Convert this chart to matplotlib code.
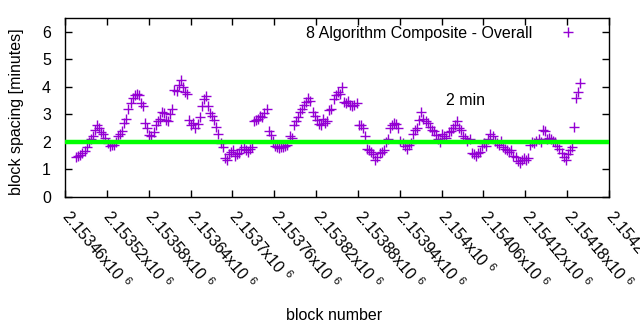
import matplotlib
matplotlib.use('Agg')
import matplotlib.pyplot as plt
import numpy as np

plt.rcParams['font.family'] = ['Liberation Sans', 'DejaVu Sans']
plt.rcParams['mathtext.fontset'] = 'custom'
plt.rcParams['mathtext.rm'] = 'Liberation Sans'
plt.rcParams['mathtext.default'] = 'regular'

# block numbers, one every 3 blocks
blocks = np.arange(2153476, 2154202, 3)

# block spacing in minutes
spacing = [
    1.45, 1.50, 1.52, 1.60, 1.68, 1.83, 2.00, 2.10, 2.20, 2.45,
    2.60, 2.50, 2.35, 2.30, 2.15, 1.95, 1.85, 1.88, 1.90, 2.00,
    2.20, 2.30, 2.40, 2.70, 2.85, 3.20, 3.40, 3.60, 3.70, 3.75,
    3.72, 3.40, 3.30, 2.70, 2.50, 2.25, 2.20, 2.35, 2.60, 2.75,
    2.85, 3.10, 3.05, 2.80, 2.75, 3.00, 3.20, 3.90, 3.85, 4.05,
    4.25, 4.00, 3.80, 3.75, 2.80, 2.60, 2.70, 2.50, 2.65, 2.90,
    3.30, 3.55, 3.65, 3.30, 3.05, 2.95, 2.80, 2.55, 2.30, 1.95,
    1.83, 1.40, 1.35, 1.55, 1.65, 1.70, 1.50, 1.55, 1.60, 1.75,
    1.80, 1.72, 1.65, 1.75, 1.80, 2.75, 2.80, 2.85, 2.95, 2.90,
    3.05, 3.20, 2.40, 2.25, 2.05, 1.85, 1.80, 1.78, 1.82, 1.80,
    1.85, 1.90, 2.20, 2.15, 2.60, 2.75, 2.90, 3.10, 3.20, 3.35,
    3.45, 3.60, 3.50, 3.10, 2.95, 2.80, 2.65, 2.60, 2.85, 2.70,
    2.75, 3.15, 3.20, 3.55, 3.70, 3.80, 3.75, 4.00, 3.45, 3.40,
    3.50, 3.35, 3.30, 3.35, 3.40, 2.60, 2.60, 2.50, 2.20, 1.75,
    1.70, 1.65, 1.55, 1.35, 1.45, 1.60, 1.65, 1.70, 2.00, 2.10,
    2.50, 2.60, 2.70, 2.65, 2.50, 2.05, 1.95, 1.85, 1.75, 1.90,
    1.95, 2.30, 2.45, 2.50, 2.80, 3.10, 2.85, 2.75, 2.70, 2.55,
    2.45, 2.40, 2.25, 2.10, 2.00, 2.30, 2.20, 2.15, 2.35, 2.40,
    2.50, 2.60, 2.75, 2.50, 2.45, 2.20, 2.15, 2.05, 2.10, 1.60,
    1.55, 1.50, 1.60, 1.65, 1.85, 1.95, 1.85, 2.10, 2.30, 2.20,
    2.05, 1.95, 1.90, 2.05, 1.80, 1.75, 1.70, 1.65, 1.70, 1.50,
    1.45, 1.30, 1.25, 1.35, 1.40, 1.35, 1.40, 1.90, 2.00, 1.95,
    2.05, 2.10, 2.00, 2.45, 2.40, 2.10, 2.15, 2.10, 2.05, 2.00,
    1.85, 1.75, 1.60, 1.45, 1.35, 1.55, 1.70, 1.80, 2.55, 3.60,
    3.80, 4.15,
]

x_ticks = np.arange(2153460, 2154241, 60)
x_tick_labels = ['2.%sx10 $^{6}$' % str(t / 1e6)[2:] for t in x_ticks]
target = 2.0

fig = plt.figure(figsize=(6.4, 3.3), dpi=100)
ax = fig.add_axes([65 / 640, 1 - 197 / 330, 544 / 640, 179 / 330])

ax.plot(blocks, spacing, linestyle='none', marker='+', markersize=6.5,
        markeredgewidth=1.0, color='#9400d3', label='8 Algorithm Composite - Overall', zorder=2)
ax.axhline(target, color='#00ff00', linewidth=3.2, zorder=3)

ax.set_xlim(2153460, 2154240)
ax.set_ylim(0, 6.5)
ax.set_yticks(range(0, 7))
ax.set_xticks(x_ticks)
ax.set_xticklabels(x_tick_labels, rotation=-50, ha='left', va='center',
                   rotation_mode='anchor')
ax.tick_params(direction='in', length=5, width=1, top=True, right=True,
               labelsize=11.5)
ax.tick_params(axis='x', pad=11.5)
ax.tick_params(axis='y', pad=10)
for s in ax.spines.values():
    s.set_linewidth(1)

fig.text(334 / 640, 1 - 316 / 330, 'block number', fontsize=11.5, ha='center', va='center')
fig.text(17 / 640, 1 - 112 / 330, 'block spacing [minutes]', fontsize=11.5,
         rotation=90, ha='center', va='center')
ax.text(2154006, 3.49, '2 min', fontsize=11.5, va='center', ha='left')

ax.legend(loc='upper right', markerfirst=False, frameon=False, fontsize=11.5,
          handlelength=1.5, handletextpad=1.5, bbox_to_anchor=(0.973, 1.038))

fig.savefig('out.png', dpi=100)
